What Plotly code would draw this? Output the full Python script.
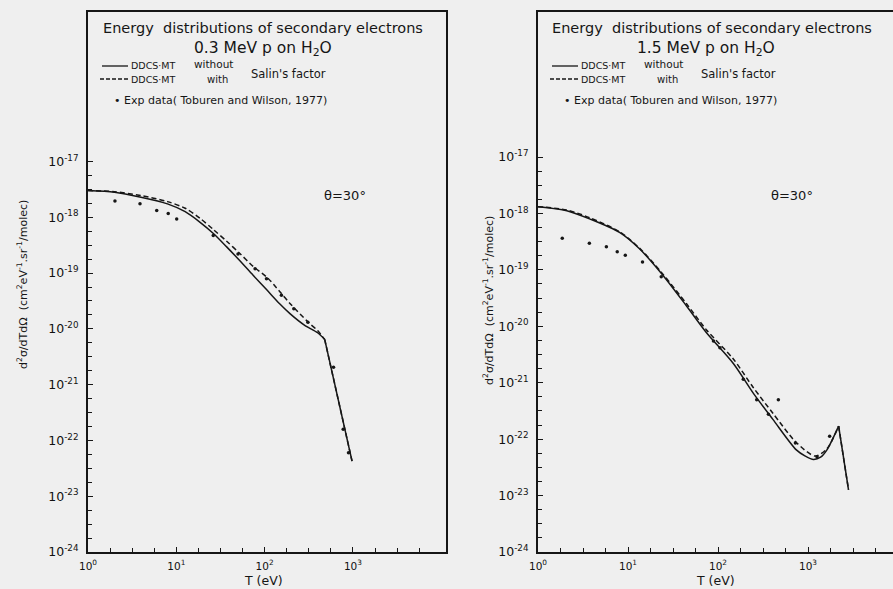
import plotly.graph_objects as go

# ---------------- data ----------------
# Panel A : 0.3 MeV p on H2O, theta = 30 deg
T_a_without = [1, 2.0, 3.98, 7.94, 12.6, 18.6, 26.3, 37.2, 52.5, 74.1, 107, 148, 195, 282, 398, 479, 977]
S_a_without = [3.02e-18, 2.82e-18, 2.29e-18, 1.74e-18, 1.26e-18, 8.13e-19, 5.13e-19, 2.95e-19, 1.66e-19,
               9.12e-20, 4.90e-20, 2.82e-20, 1.86e-20, 1.17e-20, 8.51e-21, 6.46e-21, 4.27e-23]
T_a_with = [1, 2.0, 3.98, 7.94, 12.6, 18.6, 26.3, 37.2, 52.5, 74.1, 107, 148, 195, 316, 398, 479, 977]
S_a_with = [3.02e-18, 2.88e-18, 2.45e-18, 1.91e-18, 1.45e-18, 9.55e-19, 6.03e-19, 3.72e-19, 2.24e-19,
            1.32e-19, 8.32e-20, 4.68e-20, 2.82e-20, 1.29e-20, 9.33e-21, 6.46e-21, 4.27e-23]
T_a_exp = [2.02, 3.88, 6.0, 8.1, 10.1, 26.2, 50, 78, 105, 155, 214, 309, 603, 776, 891]
S_a_exp = [1.95e-18, 1.74e-18, 1.32e-18, 1.17e-18, 9.3e-19, 4.7e-19, 2.19e-19, 1.2e-19, 7.9e-20,
           4.0e-20, 2.3e-20, 1.32e-20, 2.04e-21, 1.58e-22, 6.0e-23]

# Panel B : 1.5 MeV p on H2O, theta = 30 deg
T_b_without = [1, 2.09, 3.80, 8.13, 13.5, 23.4, 44.7, 74.1, 148, 245, 407, 741, 933, 1148, 1380, 1622, 2188, 2818]
S_b_without = [1.32e-18, 1.12e-18, 7.94e-19, 4.57e-19, 2.34e-19, 8.71e-20, 2.29e-20, 7.76e-21, 2.19e-21,
               6.61e-22, 2.24e-22, 6.46e-23, 5.01e-23, 4.37e-23, 4.79e-23, 6.46e-23, 1.70e-22, 1.26e-23]
T_b_with = [1, 2.09, 3.80, 8.13, 13.5, 23.4, 44.7, 74.1, 148, 245, 407, 741, 1202, 1622, 2188, 2818]
S_b_with = [1.32e-18, 1.15e-18, 8.32e-19, 4.68e-19, 2.40e-19, 9.12e-20, 2.51e-20, 8.71e-21, 2.63e-21,
            8.32e-22, 2.88e-22, 8.71e-23, 5.01e-23, 6.76e-23, 1.70e-22, 1.26e-23]
T_b_exp = [1.86, 3.72, 5.75, 7.59, 9.33, 14.5, 23.4, 89, 105, 191, 269, 363, 468, 724, 1259, 1738]
S_b_exp = [3.63e-19, 2.95e-19, 2.57e-19, 2.09e-19, 1.82e-19, 1.38e-19, 7.59e-20, 5.5e-21, 4.17e-21,
           1.15e-21, 5.01e-22, 2.75e-22, 5.01e-22, 8.51e-23, 4.9e-23, 1.12e-22]

x_tickvals = [1, 10, 100, 1000]
x_ticktext = ["10<sup>0</sup>", "10<sup>1</sup>", "10<sup>2</sup>", "10<sup>3</sup>"]
y_tickvals = [1e-24, 1e-23, 1e-22, 1e-21, 1e-20, 1e-19, 1e-18, 1e-17]
y_ticktext = ["10<sup>-24</sup>", "10<sup>-23</sup>", "10<sup>-22</sup>", "10<sup>-21</sup>",
              "10<sup>-20</sup>", "10<sup>-19</sup>", "10<sup>-18</sup>", "10<sup>-17</sup>"]

titles = ["0.3 MeV p on H<sub>2</sub>O", "1.5 MeV p on H<sub>2</sub>O"]

# ---------------- figure ----------------
W, H = 893, 589
INK = "#161616"
BG = "#efefef"
FONT = "DejaVu Sans, Liberation Sans, sans-serif"

def px(x):
    return x / W

def py(y):
    return 1 - y / H

fig = go.Figure()

def add_curve(t, s, xa, ya, dash, kink):
    # smooth part up to the kink, straight segment(s) after it
    fig.add_trace(go.Scatter(x=t[:kink + 1], y=s[:kink + 1], mode="lines",
                             line=dict(color=INK, width=1.5, dash=dash, shape="spline", smoothing=0.8),
                             xaxis=xa, yaxis=ya, showlegend=False))
    fig.add_trace(go.Scatter(x=t[kink:], y=s[kink:], mode="lines",
                             line=dict(color=INK, width=1.5, dash=dash),
                             xaxis=xa, yaxis=ya, showlegend=False))

DASH = "5px,3px"
add_curve(T_a_without, S_a_without, "x", "y", "solid", len(T_a_without) - 2)
add_curve(T_a_with, S_a_with, "x", "y", DASH, len(T_a_with) - 2)
add_curve(T_b_without, S_b_without, "x2", "y2", "solid", len(T_b_without) - 2)
add_curve(T_b_with, S_b_with, "x2", "y2", DASH, len(T_b_with) - 2)
for te, se, xa, ya in [(T_a_exp, S_a_exp, "x", "y"), (T_b_exp, S_b_exp, "x2", "y2")]:
    fig.add_trace(go.Scatter(x=te, y=se, mode="markers", marker=dict(color=INK, size=3.5),
                             xaxis=xa, yaxis=ya, showlegend=False))

# quarter-decade minor ticks
x_minor = [10 ** (d + q) for d in range(0, 4) for q in (0.25, 0.5, 0.75)]
y_minor = [10 ** (d + q) for d in range(-24, -17) for q in (0.25, 0.5, 0.75)]

def axis(minor_vals, **kw):
    base = dict(type="log", showgrid=False, zeroline=False, showline=True, linecolor=INK,
                linewidth=2, ticks="inside", ticklen=5, tickwidth=1.2, tickcolor=INK,
                automargin=False, ticklabelstandoff=5,
                tickfont=dict(family=FONT, size=12.5, color="#111111"),
                minor=dict(ticks="inside", ticklen=4, tickwidth=1, tickcolor=INK, showgrid=False,
                           tickmode="array", tickvals=minor_vals))
    base.update(kw)
    return base

y_dom = [1 - 552 / H, 1 - 12 / H]
xtf = dict(family=FONT, size=10.5, color="#111111")
fig.update_layout(
    width=W, height=H, margin=dict(l=0, r=0, t=0, b=0, autoexpand=False),
    paper_bgcolor=BG, plot_bgcolor=BG, showlegend=False,
    xaxis=axis(x_minor, domain=[px(88), px(446)], range=[0, 4.054], mirror=True,
               tickvals=x_tickvals, ticktext=x_ticktext, anchor="y", tickfont=xtf, ticklabelstandoff=3),
    yaxis=axis(y_minor, domain=y_dom, range=[-24, -14.32], mirror=True,
               tickvals=y_tickvals, ticktext=y_ticktext, anchor="x"),
    xaxis2=axis(x_minor, domain=[px(538), 1.0], range=[0, 3.944], mirror=True,
                tickvals=x_tickvals, ticktext=x_ticktext, anchor="y2", tickfont=xtf, ticklabelstandoff=3),
    yaxis2=axis(y_minor, domain=y_dom, range=[-24, -14.43], mirror=False,
                tickvals=y_tickvals, ticktext=y_ticktext, anchor="x2"),
)

ann = []
shapes = []
def text(x, y, s, size=11, xanchor="center", angle=0):
    ann.append(dict(x=px(x), y=py(y), xref="paper", yref="paper", text=s, showarrow=False,
                    xanchor=xanchor, yanchor="middle", textangle=angle, borderpad=0,
                    font=dict(family=FONT, size=size, color=INK)))

def hline(x0, x1, y, dash="solid"):
    shapes.append(dict(type="line", xref="paper", yref="paper", x0=px(x0), x1=px(x1),
                       y0=py(y), y1=py(y), line=dict(color=INK, width=1.3, dash=dash)))

for off, title, cx, tx in [(0, titles[0], 263, 263), (450, titles[1], 706, 712)]:
    text(tx, 28, "Energy  distributions of secondary electrons", size=14.5)
    text(cx, 49, title, size=15.5)
    hline(102 + off, 128 + off, 66)
    hline(100 + off, 128 + off, 79, dash="4px,2px")
    text(130 + off, 66, "DDCS·MT", size=9.5, xanchor="left")
    text(193 + off, 64, "without", size=10.5, xanchor="left")
    text(130 + off, 79, "DDCS·MT", size=9.5, xanchor="left")
    text(206 + off, 79, "with", size=10, xanchor="left")
    text(250 + off, 74, "Salin's factor", size=11.5, xanchor="left")
    text(113 + off, 100, "• Exp data( Toburen and Wilson, 1977)", size=11, xanchor="left")
    text(345 + off * 0.993, 195, "θ=30°", size=13)
    text(263 + off * 1.006, 580, "T (eV)", size=12.5)

ylab = "d<sup>2</sup>σ/dTdΩ  (cm<sup>2</sup>eV<sup>-1</sup>.sr<sup>-1</sup>/molec)"
text(22, 285, ylab, size=11, angle=-90)
text(488, 300, ylab, size=11, angle=-90)

fig.update_layout(annotations=ann, shapes=shapes)
fig.write_html("out.html")
